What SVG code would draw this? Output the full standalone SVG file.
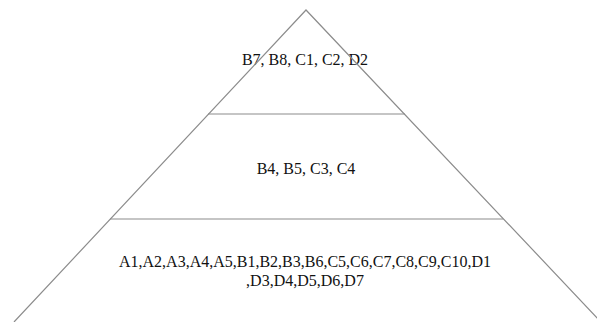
<svg xmlns="http://www.w3.org/2000/svg" width="597" height="322" viewBox="0 0 597 322">
<style>
.ln{stroke:#8c8c8c;stroke-width:1.2;fill:none}
.t{font-size:16px;fill:#111;text-anchor:middle}
</style>
<rect width="597" height="322" fill="#fff"/>
<g id="tier-top" font-family="'Liberation Serif', 'DejaVu Serif', serif">
<text class="t" x="305" y="65">B7, B8, C1, C2, D2</text>
</g>
<g id="tier-middle" font-family="'Liberation Serif', 'DejaVu Serif', serif">
<text class="t" x="306" y="174">B4, B5, C3, C4</text>
</g>
<g id="tier-bottom" font-family="'Liberation Serif', 'DejaVu Serif', serif">
<text class="t" x="305" y="267">A1,A2,A3,A4,A5,B1,B2,B3,B6,C5,C6,C7,C8,C9,C10,D1</text>
<text class="t" x="305" y="286">,D3,D4,D5,D6,D7</text>
</g>
<g id="connectors">
<polyline class="ln" points="14,322 306,10 601,322"/>
<line class="ln" x1="208" y1="114" x2="405" y2="114"/>
<line class="ln" x1="110" y1="219" x2="503" y2="219"/>
</g>
</svg>
